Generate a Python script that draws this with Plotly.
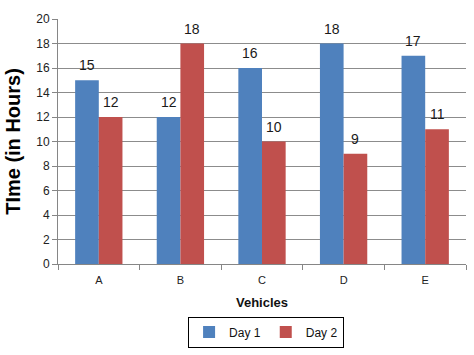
import plotly.graph_objects as go

vehicles = ["A", "B", "C", "D", "E"]
day1 = [15, 12, 16, 18, 17]
day2 = [12, 18, 10, 9, 11]
series_names = ["Day 1", "Day 2"]
colors = ["#4F81BD", "#C0504D"]
y_ticks = [0, 2, 4, 6, 8, 10, 12, 14, 16, 18, 20]

fig = go.Figure()
for name, vals, col in zip(series_names, [day1, day2], colors):
    fig.add_trace(go.Bar(x=vehicles, y=vals, name=name, marker=dict(color=col, line=dict(width=0))))

annotations = []
for vals, shift in [(day1, -11.8), (day2, 11.8)]:
    for v, y in zip(vehicles, vals):
        annotations.append(dict(x=v, y=y, text=str(y), showarrow=False, xshift=shift, yshift=15,
                                font=dict(family="Liberation Sans, Arial", size=14, color="#1a1a1a")))

fig.update_layout(
    width=474, height=355,
    margin=dict(l=58, r=8, t=19, b=91),
    paper_bgcolor="white", plot_bgcolor="white",
    barmode="group", bargap=0.42, bargroupgap=0,
    annotations=annotations,
    font=dict(family="Liberation Sans, Arial", color="#222"),
    legend=dict(orientation="h", x=0.51, xanchor="center", y=-0.278, yanchor="middle",
                bordercolor="black", borderwidth=1, font=dict(size=12, color="#111"),
                itemwidth=30, tracegroupgap=0, entrywidth=0),
    xaxis=dict(showline=True, linecolor="#868686", linewidth=1, ticks="outside", tickson="boundaries",
               ticklen=5, tickcolor="#868686", tickfont=dict(size=11, color="#222"),
               ticklabelstandoff=6,
               title=dict(text="<b>Vehicles</b>", font=dict(size=13, color="#111"), standoff=12)),
    yaxis=dict(range=[0, 20], tickvals=y_ticks, showgrid=True, gridcolor="#8c8c8c", gridwidth=1,
               showline=True, linecolor="#868686", ticks="outside", ticklen=5, tickcolor="#868686",
               tickfont=dict(size=12, color="#222"), zeroline=False,
               title=dict(text="<b>TIme (in Hours)</b>", font=dict(size=20, color="#000"), standoff=10)),
)

fig.write_html("out.html")
